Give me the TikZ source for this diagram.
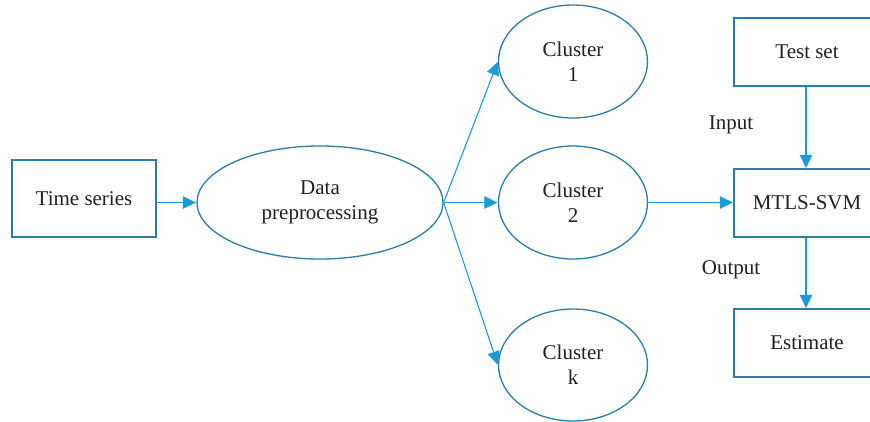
\documentclass[tikz,border=0pt]{standalone}
\usepackage{fontspec}
\setmainfont{Liberation Serif}
\usetikzlibrary{arrows.meta,shapes.geometric}
\definecolor{boxblue}{HTML}{2A7DAA}
\definecolor{arrblue}{HTML}{1C9BD8}
\definecolor{txt}{HTML}{231F20}
\tikzset{
  lbl/.style={font=\fontsize{21}{25}\selectfont, text=txt, align=center},
  box/.style={lbl, draw=boxblue, line width=1.3pt, rectangle, inner sep=0pt},
  oval/.style={lbl, draw=boxblue, line width=1.3pt, ellipse, inner sep=0pt},
  arr/.style={draw=arrblue, line width=1.1pt, -{Triangle[length=13pt,width=12.5pt]}, shorten >=0.5pt}
}
\begin{document}
\begin{tikzpicture}[x=1pt,y=-1pt]
\useasboundingbox (0,0) rectangle (870,421);
\clip (0,0) rectangle (870,421);
\node[box, minimum width=144pt, minimum height=77pt] (ts) at (84,198.5) {Time series};
\node[oval, minimum width=246pt, minimum height=113pt] (dp) at (320,202.5) {Data\\preprocessing};
\node[oval, minimum width=149pt, minimum height=113pt] (c1) at (573,61.5) {Cluster\\1};
\node[oval, minimum width=149pt, minimum height=113pt] (c2) at (573,202.5) {Cluster\\2};
\node[oval, minimum width=149pt, minimum height=112pt] (ck) at (573,365) {Cluster\\k};
\node[box, minimum width=146pt, minimum height=68pt] (test) at (807,52) {Test set};
\node[box, minimum width=146pt, minimum height=68pt] (svm) at (807,203) {MTLS-SVM};
\node[box, minimum width=146pt, minimum height=68pt] (est) at (807,343) {Estimate};
\node[lbl] (in) at (731,125) {Input};
\node[lbl] (out) at (731,270) {Output};
\draw[arr] (ts.east |- dp.west) -- (dp.west);
\draw[arr] (dp.east) -- (c1.west);
\draw[arr] (dp.east) -- (c2.west);
\draw[arr] (dp.east) -- (ck.west);
\draw[arr] (c2.east) -- (c2.east -| svm.west);
\draw[arr] (test.south -| 806,0) -- (svm.north -| 806,0);
\draw[arr] (svm.south -| 806,0) -- (est.north -| 806,0);
\end{tikzpicture}
\end{document}
